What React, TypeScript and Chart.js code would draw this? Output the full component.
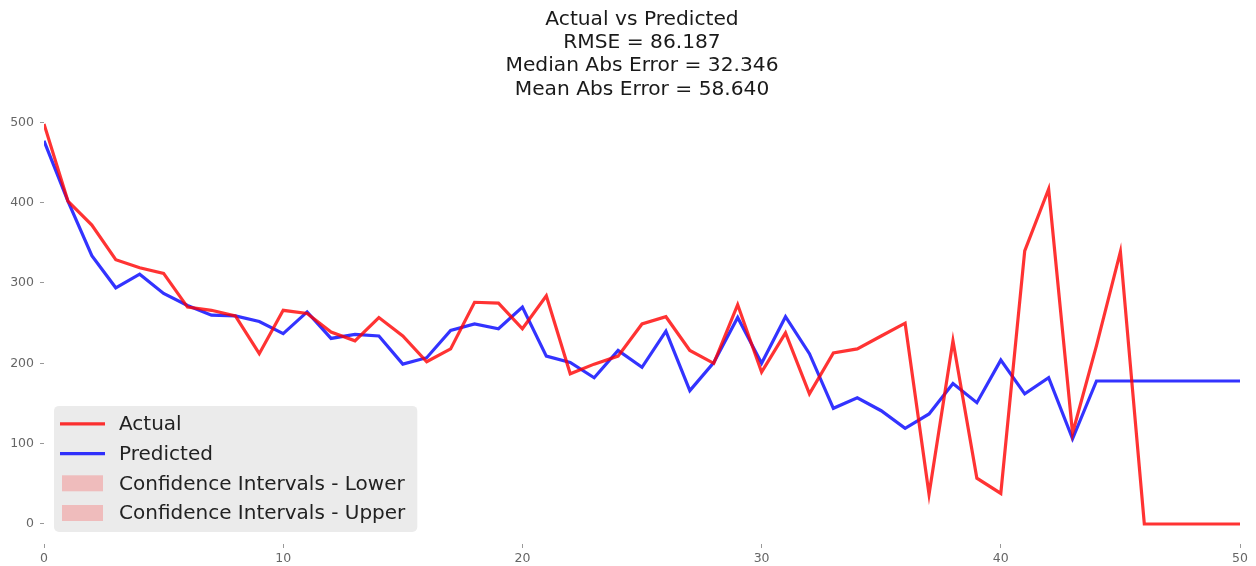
import React, { useEffect, useRef } from "react";
import { Chart, registerables } from "chart.js";

Chart.register(...registerables);

const titleLines = [
  "Actual vs Predicted",
  "RMSE = 86.187",
  "Median Abs Error = 32.346",
  "Mean Abs Error = 58.640",
];

const steps = [
  0, 1, 2, 3, 4, 5, 6, 7, 8, 9, 10, 11, 12, 13, 14, 15, 16, 17, 18, 19, 20, 21, 22, 23, 24, 25,
  26, 27, 28, 29, 30, 31, 32, 33, 34, 35, 36, 37, 38, 39, 40, 41, 42, 43, 44, 45, 46, 47, 48, 49, 50,
];

const actual = [
  498, 402, 372, 329, 319, 312, 270, 266, 259, 212, 266, 262, 239, 228, 257, 234, 202, 218, 276, 275,
  243, 284, 187, 199, 209, 249, 258, 216, 200, 273, 189, 238, 162, 213, 218, 234, 250, 37, 228, 57,
  38, 340, 417, 113, 222, 339, 0, 0, 0, 0, 0,
];

const predicted = [
  477, 402, 334, 294, 311, 287, 272, 260, 259, 252, 237, 264, 231, 236, 234, 199, 207, 241, 249, 243,
  270, 209, 201, 182, 216, 195, 240, 166, 201, 257, 200, 258, 212, 144, 157, 141, 119, 137, 175, 151,
  204, 162, 182, 106, 178, 178, 178, 178, 178, 178, 178,
];

const ciLower: number[] = [];
const ciUpper: number[] = [];

const xTicks = [0, 10, 20, 30, 40, 50];
const yTicks = [0, 100, 200, 300, 400, 500];

const FONT = '"DejaVu Sans", "Liberation Sans", sans-serif';

const boxLegend = {
  id: "boxLegend",
  afterDraw(chart: any) {
    const ctx = chart.ctx as CanvasRenderingContext2D;
    const { left, bottom } = chart.chartArea;
    const items = chart.data.datasets.map((d: any) => ({
      label: d.label,
      kind: d.legendKind,
      color: d.legendKind === "line" ? d.borderColor : d.backgroundColor,
    }));
    ctx.save();
    ctx.font = `20px ${FONT}`;
    let maxW = 0;
    items.forEach((it: any) => {
      maxW = Math.max(maxW, ctx.measureText(it.label).width);
    });
    const x0 = left + 10;
    const rowGap = 29.7;
    const h = 18 + rowGap * (items.length - 1) + 19;
    const y0 = bottom - 12 - h;
    const w = 6 + 45 + 14 + maxW + 12;
    ctx.fillStyle = "#ebebeb";
    ctx.beginPath();
    (ctx as any).roundRect(x0, y0, w, h, 5);
    ctx.fill();
    items.forEach((it: any, i: number) => {
      const cy = y0 + 18 + i * rowGap;
      if (it.kind === "line") {
        ctx.strokeStyle = it.color;
        ctx.lineWidth = 3.2;
        ctx.beginPath();
        ctx.moveTo(x0 + 6, cy);
        ctx.lineTo(x0 + 51, cy);
        ctx.stroke();
      } else {
        ctx.fillStyle = it.color;
        ctx.fillRect(x0 + 8, cy - 8, 41, 16);
      }
      ctx.fillStyle = "#222";
      ctx.textBaseline = "middle";
      ctx.textAlign = "left";
      ctx.fillText(it.label, x0 + 65, cy + 1);
    });
    ctx.restore();
  },
};

export default function App() {
  const ref = useRef<HTMLCanvasElement | null>(null);

  useEffect(() => {
    document.body.style.margin = "0";
    if (!ref.current) return;
    const chart = new Chart(ref.current, {
      type: "line",
      data: {
        datasets: [
          {
            label: "Actual",
            legendKind: "line",
            data: actual.map((v, i) => ({ x: steps[i], y: v })),
            borderColor: "rgba(255,0,0,0.8)",
            backgroundColor: "rgba(255,0,0,0.8)",
            borderWidth: 3.2,
            pointRadius: 0,
            tension: 0,
          } as any,
          {
            label: "Predicted",
            legendKind: "line",
            data: predicted.map((v, i) => ({ x: steps[i], y: v })),
            borderColor: "rgba(0,0,255,0.8)",
            backgroundColor: "rgba(0,0,255,0.8)",
            borderWidth: 3.2,
            pointRadius: 0,
            tension: 0,
          } as any,
          {
            label: "Confidence Intervals - Lower",
            legendKind: "patch",
            data: ciLower.map((v, i) => ({ x: steps[i], y: v })),
            borderColor: "rgba(255,0,0,0.2)",
            backgroundColor: "rgba(255,0,0,0.2)",
            borderWidth: 0,
            pointRadius: 0,
          } as any,
          {
            label: "Confidence Intervals - Upper",
            legendKind: "patch",
            data: ciUpper.map((v, i) => ({ x: steps[i], y: v })),
            borderColor: "rgba(255,0,0,0.2)",
            backgroundColor: "rgba(255,0,0,0.2)",
            borderWidth: 0,
            pointRadius: 0,
          } as any,
        ],
      },
      options: {
        animation: false,
        responsive: false,
        layout: { padding: { left: 0, right: 16, top: 0, bottom: 0 } },
        plugins: {
          legend: { display: false },
          tooltip: { enabled: false },
          title: {
            display: true,
            fullSize: false,
            text: titleLines,
            color: "#1a1a1a",
            font: { family: FONT, size: 20.2, weight: "normal", lineHeight: 1.15 },
            padding: { top: 8, bottom: 3 },
          },
        },
        scales: {
          x: {
            type: "linear",
            min: 0,
            max: 50,
            afterBuildTicks: (s: any) => {
              s.ticks = xTicks.map((v) => ({ value: v }));
            },
            afterFit: (s: any) => {
              s.height = 22;
            },
            border: { display: false },
            grid: {
              drawOnChartArea: false,
              drawTicks: true,
              tickLength: 4,
              tickColor: "#999",
            },
            ticks: {
              color: "#666",
              padding: 3,
              maxRotation: 0,
              font: { family: FONT, size: 12.5 },
            },
          },
          y: {
            type: "linear",
            min: -24.9,
            max: 522.9,
            afterBuildTicks: (s: any) => {
              s.ticks = yTicks.map((v) => ({ value: v }));
            },
            afterFit: (s: any) => {
              s.width = 44;
            },
            border: { display: false },
            grid: {
              drawOnChartArea: false,
              drawTicks: true,
              tickLength: 4,
              tickColor: "#999",
            },
            ticks: {
              color: "#666",
              padding: 6,
              font: { family: FONT, size: 12.5 },
            },
          },
        },
      },
      plugins: [boxLegend],
    });
    return () => chart.destroy();
  }, []);

  return (
    <div style={{ width: 1256, height: 566 }}>
      <canvas ref={ref} width={1256} height={566} style={{ display: "block" }} />
    </div>
  );
}
